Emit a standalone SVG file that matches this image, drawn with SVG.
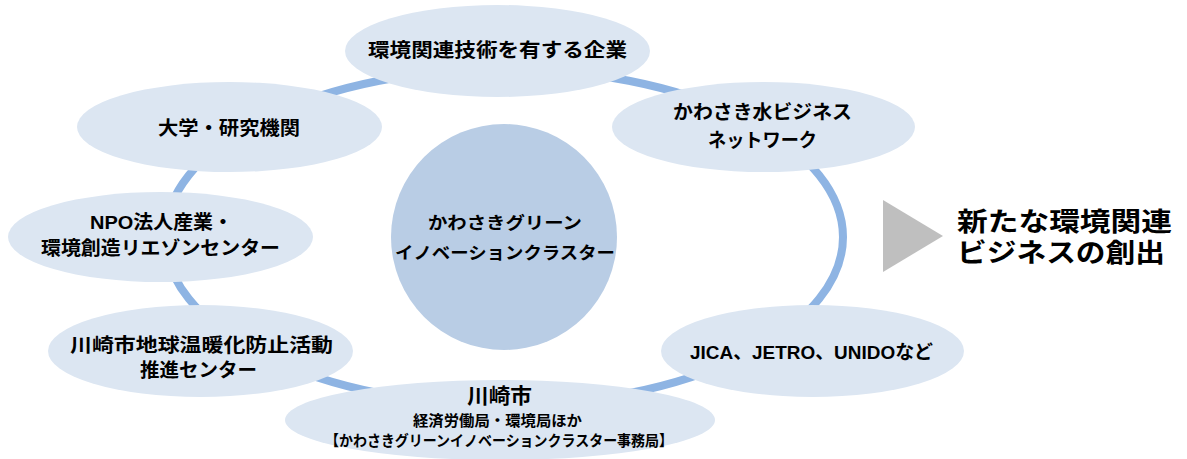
<svg xmlns="http://www.w3.org/2000/svg" width="1187" height="459" viewBox="0 0 1187 459">
<style>
.node{fill:#DCE6F2;}
.hub{fill:#B9CDE5;}
.ring{fill:none;stroke:#8EB4E3;stroke-width:8;}
text{font-family:"Liberation Sans","Noto Sans CJK JP",sans-serif;font-weight:bold;fill:#000;}
.t19{font-size:19px;}
.t17{font-size:17px;}
.t15{font-size:15px;}
.t21{font-size:21px;}
.t26{font-size:26px;}
</style>
<rect width="1187" height="459" fill="#fff"/>
<g id="connectors">
<ellipse class="ring" cx="504" cy="237" rx="339" ry="168"/>
</g>
<g id="node-kigyo">
<ellipse class="node" cx="497.5" cy="51" rx="152.5" ry="46"/>
<text class="t19" x="368" y="57" textLength="259" lengthAdjust="spacingAndGlyphs">環境関連技術を有する企業</text>
</g>
<g id="node-daigaku">
<ellipse class="node" cx="229.5" cy="127" rx="152.5" ry="45"/>
<text class="t19" x="158" y="135" textLength="142" lengthAdjust="spacingAndGlyphs">大学・研究機関</text>
</g>
<g id="node-mizu">
<ellipse class="node" cx="763.5" cy="127" rx="151.5" ry="45"/>
<text class="t19" x="673" y="119" textLength="179" lengthAdjust="spacingAndGlyphs">かわさき水ビジネス</text>
<text class="t19" x="708" y="147" textLength="109" lengthAdjust="spacingAndGlyphs">ネットワーク</text>
</g>
<g id="node-npo">
<ellipse class="node" cx="160.5" cy="237" rx="152.5" ry="45"/>
<text class="t19" x="90" y="229" textLength="143" lengthAdjust="spacingAndGlyphs">NPO法人産業・</text>
<text class="t19" x="41" y="255" textLength="239" lengthAdjust="spacingAndGlyphs">環境創造リエゾンセンター</text>
</g>
<g id="node-ondanka">
<ellipse class="node" cx="200.5" cy="351" rx="152.5" ry="46"/>
<text class="t19" x="70" y="352" textLength="263" lengthAdjust="spacingAndGlyphs">川崎市地球温暖化防止活動</text>
<text class="t19" x="140" y="377" textLength="117" lengthAdjust="spacingAndGlyphs">推進センター</text>
</g>
<g id="node-jica">
<ellipse class="node" cx="812.5" cy="351" rx="151.5" ry="46"/>
<text class="t19" x="690" y="359" textLength="243" lengthAdjust="spacingAndGlyphs">JICA、JETRO、UNIDOなど</text>
</g>
<g id="node-city">
<ellipse class="node" cx="500" cy="420" rx="215" ry="40"/>
<text class="t21" x="467" y="402.5" textLength="65" lengthAdjust="spacingAndGlyphs">川崎市</text>
<text class="t15" x="413" y="425.5" textLength="169" lengthAdjust="spacingAndGlyphs">経済労働局・環境局ほか</text>
<text class="t15" x="325" y="445.5" textLength="348" lengthAdjust="spacingAndGlyphs">【かわさきグリーンイノベーションクラスター事務局】</text>
</g>
<g id="node-cluster">
<circle class="hub" cx="504" cy="237" r="113"/>
<text class="t17" x="428" y="229" textLength="154" lengthAdjust="spacingAndGlyphs">かわさきグリーン</text>
<text class="t17" x="395" y="259" textLength="220" lengthAdjust="spacingAndGlyphs">イノベーションクラスター</text>
</g>
<g id="node-result">
<polygon points="883,200 943,236 883,272" fill="#BFBFBF"/>
<text class="t26" x="957" y="231" textLength="215" lengthAdjust="spacingAndGlyphs">新たな環境関連</text>
<text class="t26" x="957" y="262" textLength="208" lengthAdjust="spacingAndGlyphs">ビジネスの創出</text>
</g>
</svg>
